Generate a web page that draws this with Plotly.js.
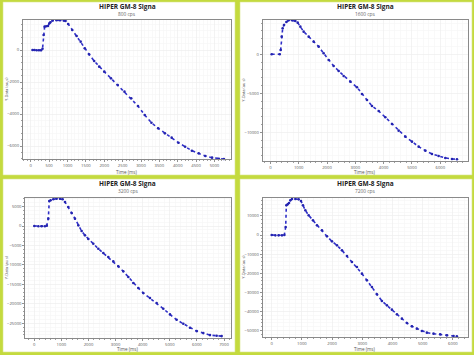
<!DOCTYPE html>
<html>
<head>
<meta charset="utf-8">
<script src="https://cdn.plot.ly/plotly-3.0.1.min.js"></script>
<style>html,body{margin:0;padding:0;background:#fff;}#chart{width:474px;height:355px;}</style>
</head>
<body>
<div id="chart"></div>
<script>
// ---- data ----
const chartTitle = "HIPER GM-8 Signa";
const subtitles = ["800 cps", "1600 cps", "3200 cps", "7200 cps"];
const xTitle = "Time (ms)";
const yTitle = "Y-Data (au s)";

const time1 = [46, 100, 160, 220, 280, 320, 349, 376, 420, 468, 505, 532, 596, 700, 800, 900, 945, 1018, 1128, 1248, 1358, 1468, 1587, 1725, 1862, 2000, 2183, 2367, 2550, 2734, 2917, 3101, 3284, 3468, 3651, 3835, 4018, 4202, 4385, 4569, 4752, 4936, 5119, 5257];
const sig1  = [0, 0, -20, -20, -20, 80, 938, 1458, 1480, 1500, 1667, 1729, 1850, 1860, 1860, 1850, 1820, 1625, 1250, 875, 521, 104, -271, -688, -1042, -1354, -1771, -2188, -2604, -3021, -3500, -4063, -4542, -4896, -5208, -5479, -5792, -6042, -6292, -6458, -6625, -6729, -6792, -6812];

const time2 = [47, 330, 365, 400, 435, 482, 565, 647, 765, 882, 965, 1059, 1176, 1353, 1529, 1706, 1882, 2059, 2235, 2412, 2588, 2824, 3059, 3235, 3412, 3588, 3824, 4059, 4294, 4529, 4765, 5000, 5235, 5471, 5706, 5941, 6176, 6412, 6588];
const sig2  = [0, 0, 555, 2265, 3333, 3760, 4145, 4359, 4359, 4274, 4060, 3547, 2906, 2265, 1624, 983, 128, -726, -1496, -2137, -2778, -3504, -4231, -5085, -5855, -6624, -7265, -8077, -8932, -9786, -10556, -11197, -11838, -12350, -12778, -13034, -13291, -13419, -13462];

const time3 = [0, 150, 270, 390, 460, 517, 553, 603, 701, 824, 947, 1046, 1132, 1255, 1378, 1501, 1624, 1747, 1870, 1993, 2177, 2362, 2546, 2731, 2915, 3100, 3284, 3469, 3653, 3838, 4022, 4268, 4514, 4760, 5006, 5252, 5498, 5744, 5990, 6236, 6482, 6728, 6913];
const sig3  = [0, -50, -80, -50, 86, 1887, 6432, 6604, 6861, 7033, 7033, 6861, 6175, 4889, 3345, 1887, 172, -1286, -2401, -3345, -4545, -5832, -6947, -7976, -9091, -10377, -11664, -13122, -14666, -15952, -17238, -18525, -19811, -21269, -22727, -24099, -25128, -26158, -27015, -27530, -28045, -28216, -28302];

const time4 = [0, 120, 230, 340, 419, 463, 485, 529, 573, 617, 673, 783, 893, 970, 1036, 1114, 1224, 1367, 1499, 1665, 1830, 1996, 2161, 2326, 2492, 2657, 2822, 2988, 3153, 3319, 3484, 3649, 3815, 3980, 4146, 4311, 4476, 4642, 4807, 4972, 5138, 5358, 5579, 5799, 6020, 6130];
const sig4  = [0, -170, -170, -170, 0, 4188, 15532, 16056, 16754, 18150, 18848, 18848, 18674, 17801, 15532, 12914, 10297, 7679, 5061, 2443, -698, -3316, -5410, -8028, -10995, -14136, -16754, -20244, -23735, -27225, -31065, -34555, -36824, -39092, -41536, -43805, -46073, -47819, -49040, -50262, -51134, -51658, -52007, -52531, -52880, -53054];

// ---- layout helpers ----
const W = 474, H = 355;
const px = v => v / W;
const py = v => 1 - v / H;
const green = "#c4da3e";
const font = "Open Sans, Liberation Sans, sans-serif";

const series = [[time1, sig1], [time2, sig2], [time3, sig3], [time4, sig4]];
const panels = [
  {ox: 0,   oy: 0,   plot: [23, 231, 20, 159],       xr: [-212, 5450], yr: [-6812, 1875],   xd: 500,  xm: 100, yd: 2000,  ym: 400},
  {ox: 237, oy: 0,   plot: [262.7, 467.7, 20, 160.7], xr: [-270, 6967], yr: [-13641, 4397],  xd: 1000, xm: 200, yd: 5000,  ym: 1000},
  {ox: 0,   oy: 177, plot: [25.3, 230.7, 197.7, 337.7], xr: [-332, 7247], yr: [-28714, 7275], xd: 1000, xm: 200, yd: 5000, ym: 1000},
  {ox: 237, oy: 177, plot: [262.7, 467.7, 197.7, 337], xr: [-298, 6490], yr: [-53400, 19530], xd: 1000, xm: 200, yd: 10000, ym: 2000}
];

const traces = [];
const layout = {
  width: W, height: H,
  margin: {l: 0, r: 0, t: 0, b: 0},
  paper_bgcolor: green,
  plot_bgcolor: "#ffffff",
  showlegend: false,
  font: {family: font, size: 4.5, color: "#555"},
  shapes: [], annotations: []
};

panels.forEach((p, i) => {
  const n = i + 1;
  const sfx = n === 1 ? "" : String(n);
  traces.push({
    x: series[i][0], y: series[i][1],
    xaxis: "x" + sfx, yaxis: "y" + sfx,
    type: "scatter", mode: "lines+markers",
    line: {color: "#2f2fc8", width: 1.6, dash: "dot"},
    marker: {color: "#2424b0", size: 2.6},
    cliponaxis: false
  });
  const common = {
    showline: true, mirror: true, linecolor: "#8a8a8a", linewidth: 1,
    ticks: "outside", ticklen: 2, tickcolor: "#777", tickwidth: 0.8,
    tickfont: {family: font, size: 4.2, color: "#555"},
    tickformat: "d",
    showgrid: true, gridcolor: "#eeeeee", gridwidth: 0.7,
    zeroline: false, fixedrange: true
  };
  layout["xaxis" + sfx] = Object.assign({}, common, {
    domain: [px(p.plot[0]), px(p.plot[1])],
    range: p.xr, dtick: p.xd, tick0: 0,
    anchor: "y" + sfx,
    minor: {dtick: p.xm, ticks: "outside", ticklen: 1.2, tickcolor: "#888", showgrid: true, gridcolor: "#f7f7f7"}
  });
  layout["yaxis" + sfx] = Object.assign({}, common, {
    domain: [py(p.plot[3]), py(p.plot[2])],
    range: p.yr, dtick: p.yd, tick0: 0,
    anchor: "x" + sfx,
    minor: {dtick: p.ym, ticks: "outside", ticklen: 1.2, tickcolor: "#888", showgrid: true, gridcolor: "#f7f7f7"}
  });
  // white panel card
  const x0 = p.ox + 3, x1 = p.ox + 235, y0 = p.oy + 2, y1 = p.oy + 175;
  layout.shapes.push({type: "rect", xref: "paper", yref: "paper", layer: "below",
    x0: px(x0), x1: px(x1), y0: py(y1), y1: py(y0),
    fillcolor: "#ffffff", line: {color: "#d8e68a", width: 0.6}});
  const cx = (p.plot[0] + p.plot[1]) / 2;
  layout.annotations.push(
    {text: "<b>" + chartTitle + "</b>", xref: "paper", yref: "paper", x: px(cx), y: py(p.oy + 6.5),
     showarrow: false, xanchor: "center", yanchor: "middle", font: {family: font, size: 6.5, color: "#222"}},
    {text: subtitles[i], xref: "paper", yref: "paper", x: px(cx), y: py(p.oy + 14),
     showarrow: false, xanchor: "center", yanchor: "middle", font: {family: font, size: 4.8, color: "#666"}},
    {text: xTitle, xref: "paper", yref: "paper", x: px(cx), y: py(p.oy + 172),
     showarrow: false, xanchor: "center", yanchor: "middle", font: {family: font, size: 4.6, color: "#555"}},
    {text: yTitle, xref: "paper", yref: "paper", x: px(p.ox + 6.5), y: py((p.plot[2] + p.plot[3]) / 2),
     showarrow: false, textangle: -90, xanchor: "center", yanchor: "middle", font: {family: font, size: 4, color: "#555"}}
  );
});

Plotly.newPlot("chart", traces, layout, {staticPlot: true, displayModeBar: false});
</script>
</body>
</html>
